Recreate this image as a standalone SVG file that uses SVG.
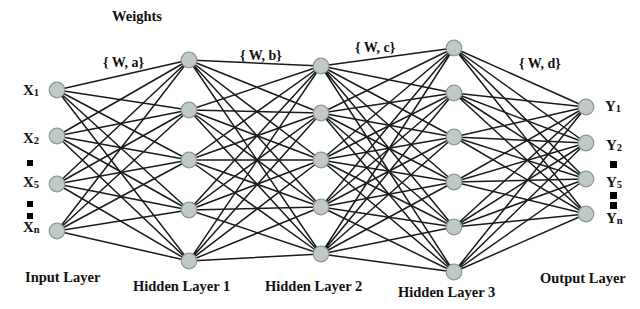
<svg xmlns="http://www.w3.org/2000/svg" width="640" height="309" viewBox="0 0 640 309">
<style>
.t{font-family:"Liberation Serif","Times New Roman",serif;font-weight:bold;fill:#111;font-size:14.5px}
.w{font-size:14px}
.xy{font-size:15px}
.s{font-size:10.5px}
.e{stroke:#1a1a1a;stroke-width:1.5;fill:none}
.n{fill:#bfc9c6;stroke:#8d9996;stroke-width:1.2}
.sq{fill:#000}
</style>
<rect width="640" height="309" fill="#fff"/>
<g id="connectors" class="e">
<path d="M57 90L189 60M57 90L189 110M57 90L189 160M57 90L189 210M57 90L189 261"/>
<path d="M57 136L189 60M57 136L189 110M57 136L189 160M57 136L189 210M57 136L189 261"/>
<path d="M57 184L189 60M57 184L189 110M57 184L189 160M57 184L189 210M57 184L189 261"/>
<path d="M57 231L189 60M57 231L189 110M57 231L189 160M57 231L189 210M57 231L189 261"/>
<path d="M189 60L321 66M189 60L321 113M189 60L321 160M189 60L321 207M189 60L321 254"/>
<path d="M189 110L321 66M189 110L321 113M189 110L321 160M189 110L321 207M189 110L321 254"/>
<path d="M189 160L321 66M189 160L321 113M189 160L321 160M189 160L321 207M189 160L321 254"/>
<path d="M189 210L321 66M189 210L321 113M189 210L321 160M189 210L321 207M189 210L321 254"/>
<path d="M189 261L321 66M189 261L321 113M189 261L321 160M189 261L321 207M189 261L321 254"/>
<path d="M321 66L454 48M321 66L454 93M321 66L454 137M321 66L454 182M321 66L454 227M321 66L454 272"/>
<path d="M321 113L454 48M321 113L454 93M321 113L454 137M321 113L454 182M321 113L454 227M321 113L454 272"/>
<path d="M321 160L454 48M321 160L454 93M321 160L454 137M321 160L454 182M321 160L454 227M321 160L454 272"/>
<path d="M321 207L454 48M321 207L454 93M321 207L454 137M321 207L454 182M321 207L454 227M321 207L454 272"/>
<path d="M321 254L454 48M321 254L454 93M321 254L454 137M321 254L454 182M321 254L454 227M321 254L454 272"/>
<path d="M454 48L586 107M454 48L586 143M454 48L586 179M454 48L586 214"/>
<path d="M454 93L586 107M454 93L586 143M454 93L586 179M454 93L586 214"/>
<path d="M454 137L586 107M454 137L586 143M454 137L586 179M454 137L586 214"/>
<path d="M454 182L586 107M454 182L586 143M454 182L586 179M454 182L586 214"/>
<path d="M454 227L586 107M454 227L586 143M454 227L586 179M454 227L586 214"/>
<path d="M454 272L586 107M454 272L586 143M454 272L586 179M454 272L586 214"/>
</g>
<g id="input-layer">
<circle id="x1" class="n" cx="57" cy="90" r="7.8"/>
<circle id="x2" class="n" cx="57" cy="136" r="7.8"/>
<circle id="x5" class="n" cx="57" cy="184" r="7.8"/>
<circle id="xn" class="n" cx="57" cy="231" r="7.8"/>
</g>
<g id="hidden-layer-1">
<circle class="n" cx="189" cy="60" r="7.8"/>
<circle class="n" cx="189" cy="110" r="7.8"/>
<circle class="n" cx="189" cy="160" r="7.8"/>
<circle class="n" cx="189" cy="210" r="7.8"/>
<circle class="n" cx="189" cy="261" r="7.8"/>
</g>
<g id="hidden-layer-2">
<circle class="n" cx="321" cy="66" r="7.8"/>
<circle class="n" cx="321" cy="113" r="7.8"/>
<circle class="n" cx="321" cy="160" r="7.8"/>
<circle class="n" cx="321" cy="207" r="7.8"/>
<circle class="n" cx="321" cy="254" r="7.8"/>
</g>
<g id="hidden-layer-3">
<circle class="n" cx="454" cy="48" r="7.8"/>
<circle class="n" cx="454" cy="93" r="7.8"/>
<circle class="n" cx="454" cy="137" r="7.8"/>
<circle class="n" cx="454" cy="182" r="7.8"/>
<circle class="n" cx="454" cy="227" r="7.8"/>
<circle class="n" cx="454" cy="272" r="7.8"/>
</g>
<g id="output-layer">
<circle id="y1" class="n" cx="586" cy="107" r="7.8"/>
<circle id="y2" class="n" cx="586" cy="143" r="7.8"/>
<circle id="y5" class="n" cx="586" cy="179" r="7.8"/>
<circle id="yn" class="n" cx="586" cy="214" r="7.8"/>
</g>
<g id="labels">
<text class="t" x="112" y="21">Weights</text>
<text class="t w" x="103" y="67">{ W, a}</text>
<text class="t w" x="240" y="60">{ W, b}</text>
<text class="t w" x="355" y="52">{ W, c}</text>
<text class="t w" x="519" y="68">{ W, d}</text>
<text class="t xy" x="23" y="95">X<tspan class="s" dy="1">1</tspan></text>
<text class="t xy" x="23" y="143">X<tspan class="s" dy="1">2</tspan></text>
<text class="t xy" x="23" y="187">X<tspan class="s" dy="1">5</tspan></text>
<text class="t xy" x="23" y="232">X<tspan class="s" dy="1">n</tspan></text>
<text class="t xy" x="605" y="111">Y<tspan class="s" dy="1">1</tspan></text>
<text class="t xy" x="606" y="150">Y<tspan class="s" dy="1">2</tspan></text>
<text class="t xy" x="606" y="187">Y<tspan class="s" dy="1">5</tspan></text>
<text class="t xy" x="606" y="223">Y<tspan class="s" dy="1">n</tspan></text>
<text class="t" x="25" y="282">Input Layer</text>
<text class="t" x="133" y="291">Hidden Layer 1</text>
<text class="t" x="265" y="291">Hidden Layer 2</text>
<text class="t" x="398" y="297">Hidden Layer 3</text>
<text class="t" x="540" y="283">Output Layer</text>
</g>
<g id="ellipsis-marks">
<rect class="sq" x="27" y="160" width="6" height="6"/>
<rect class="sq" x="27" y="201" width="6" height="6"/>
<rect class="sq" x="27" y="213" width="6" height="6"/>
<rect class="sq" x="610" y="161" width="7" height="7"/>
<rect class="sq" x="610" y="192" width="7" height="7"/>
<rect class="sq" x="610" y="202" width="7" height="7"/>
</g>
</svg>
